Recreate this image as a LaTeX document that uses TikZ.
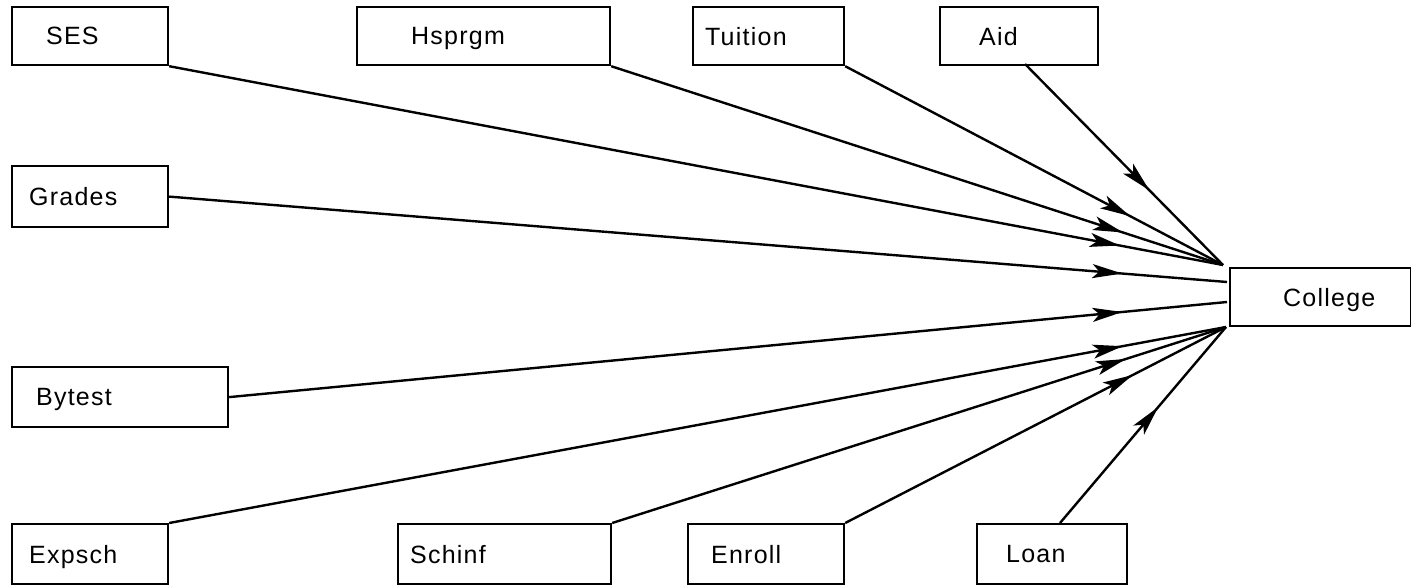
\documentclass[tikz,border=0pt]{standalone}
\usepackage{fontspec}
\setmainfont{Liberation Sans}[LetterSpace=5]
\usetikzlibrary{decorations.markings,arrows.meta}
\begin{document}
\begin{tikzpicture}[x=1pt,y=-1pt,
  box/.style={draw, line width=2.2pt, anchor=north west, align=left, inner ysep=0pt,
    font=\fontsize{25}{29}\selectfont, text depth=0pt},
  link/.style={line width=2.4pt, postaction={decorate},
    decoration={markings, mark=at position -105pt with {\arrow{Stealth[length=30pt,width=14pt,inset=7pt]}}}}]
\useasboundingbox (0,0) rectangle (1411,586);
% top row
\node[box, minimum height=58pt, inner xsep=34pt, text width=156pt-68pt] (SES) at (11,6) {SES};
\node[box, minimum height=58pt, inner xsep=54pt, text width=253pt-108pt] (Hsprgm) at (356,6) {Hsprgm};
\node[box, minimum height=58pt, inner xsep=12pt, text width=151pt-24pt] (Tuition) at (692,6) {Tuition};
\node[box, minimum height=58pt, inner xsep=39pt, text width=158pt-78pt] (Aid) at (939,6) {Aid};
% left column
\node[box, minimum height=61pt, inner xsep=17pt, text width=156pt-34pt] (Grades) at (11,165) {Grades};
\node[box, minimum height=60pt, inner xsep=24pt, text width=216pt-48pt] (Bytest) at (11,366) {Bytest};
% bottom row
\node[box, minimum height=60pt, inner xsep=17pt, text width=156pt-34pt] (Expsch) at (11,523) {Expsch};
\node[box, minimum height=60pt, inner xsep=12pt, text width=213pt-24pt] (Schinf) at (397,523) {Schinf};
\node[box, minimum height=60pt, inner xsep=23pt, text width=156pt-46pt] (Enroll) at (687,523) {Enroll};
\node[box, minimum height=60pt, inner xsep=29pt, text width=150pt-58pt] (Loan) at (976,523) {Loan};
% target
\node[box, minimum height=58pt, inner xsep=53pt, text width=181pt-106pt] (College) at (1229,267) {College};
% connector end points
\coordinate (ctop) at (1223,265);
\coordinate (cgr) at (1227,282);
\coordinate (cby) at (1227,302);
\coordinate (cbot) at (1226,327);
\coordinate (aidout) at (1025,64);
\coordinate (loanout) at (1060,523);
% connectors
\draw[link] (SES.south east) -- (ctop);
\draw[link] (Hsprgm.south east) -- (ctop);
\draw[link] (Tuition.south east) -- (ctop);
\draw[link] (aidout) -- (ctop);
\draw[link] (Grades.east) -- (cgr);
\draw[link] (Bytest.east) -- (cby);
\draw[link] (Expsch.north east) -- (cbot);
\draw[link] (Schinf.north east) -- (cbot);
\draw[link] (Enroll.north east) -- (cbot);
\draw[link] (loanout) -- (cbot);
\end{tikzpicture}
\end{document}
